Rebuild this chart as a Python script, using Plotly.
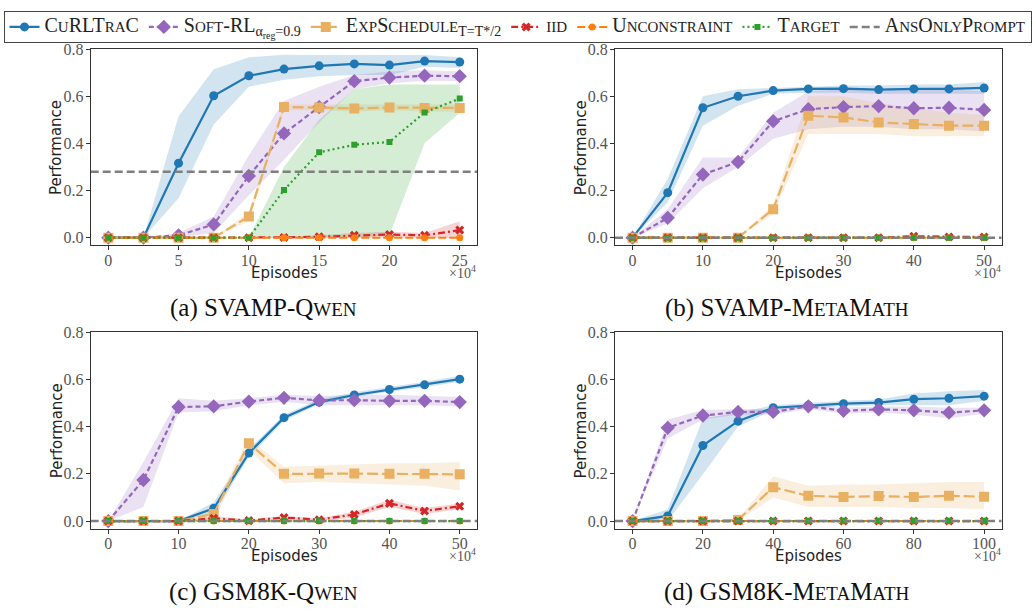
import plotly.graph_objects as go

# ---------------- data ----------------
x_a = [0, 2.5, 5, 7.5, 10, 12.5, 15, 17.5, 20, 22.5, 25]
x_b = [0, 5, 10, 15, 20, 25, 30, 35, 40, 45, 50]
x_c = [0, 5, 10, 15, 20, 25, 30, 35, 40, 45, 50]
x_d = [0, 10, 20, 30, 40, 50, 60, 70, 80, 90, 100]
zeros = [0] * 11

# (a) SVAMP-Qwen
cur_a = [0, 0, 0.316, 0.602, 0.687, 0.715, 0.729, 0.737, 0.732, 0.749, 0.745]
cur_a_lo = [0, 0, 0.167, 0.48, 0.64, 0.67, 0.685, 0.69, 0.69, 0.725, 0.72]
cur_a_hi = [0, 0, 0.515, 0.714, 0.765, 0.776, 0.775, 0.775, 0.775, 0.775, 0.765]
soft_a = [0, 0, 0.01, 0.056, 0.262, 0.442, 0.554, 0.664, 0.679, 0.687, 0.685]
soft_a_lo = [0, 0, 0.0, 0.02, 0.18, 0.33, 0.49, 0.63, 0.655, 0.665, 0.665]
soft_a_hi = [0, 0, 0.02, 0.09, 0.35, 0.58, 0.64, 0.69, 0.705, 0.71, 0.705]
exp_a = [0, 0, 0, 0, 0.09, 0.554, 0.552, 0.548, 0.552, 0.55, 0.55]
exp_a_lo = [0, 0, 0, 0, 0.07, 0.54, 0.54, 0.535, 0.54, 0.535, 0.535]
exp_a_hi = [0, 0, 0, 0, 0.11, 0.565, 0.565, 0.565, 0.565, 0.565, 0.565]
iid_a = [0, 0, 0, 0, 0, 0.001, 0.004, 0.01, 0.013, 0.01, 0.032]
iid_a_lo = [0, 0, 0, 0, 0, 0, 0, 0, 0, 0, 0]
iid_a_hi = [0, 0, 0, 0, 0, 0.004, 0.01, 0.02, 0.025, 0.02, 0.07]
unc_a = zeros
tgt_a = [0, 0, 0, 0, 0, 0.202, 0.362, 0.394, 0.406, 0.531, 0.59]
tgt_a_lo = [0, 0, 0, 0, 0, 0, 0, 0, 0.01, 0.4, 0.53]
tgt_a_hi = [0, 0, 0, 0, 0, 0.3, 0.5, 0.63, 0.65, 0.65, 0.65]
ans_a = 0.28

# (b) SVAMP-MetaMath
cur_b = [0, 0.191, 0.551, 0.6, 0.624, 0.631, 0.632, 0.628, 0.631, 0.631, 0.635]
cur_b_lo = [0, 0.15, 0.475, 0.56, 0.61, 0.615, 0.615, 0.61, 0.61, 0.61, 0.61]
cur_b_hi = [0, 0.25, 0.6, 0.63, 0.635, 0.64, 0.645, 0.645, 0.65, 0.65, 0.66]
soft_b = [0, 0.084, 0.268, 0.321, 0.494, 0.545, 0.554, 0.558, 0.549, 0.551, 0.542]
soft_b_lo = [0, 0.06, 0.21, 0.30, 0.42, 0.46, 0.47, 0.47, 0.46, 0.46, 0.45]
soft_b_hi = [0, 0.12, 0.34, 0.34, 0.53, 0.62, 0.63, 0.63, 0.63, 0.63, 0.62]
exp_b = [0, 0, 0, 0, 0.121, 0.517, 0.51, 0.489, 0.482, 0.475, 0.475]
exp_b_lo = [0, 0, 0, 0, 0.1, 0.44, 0.44, 0.44, 0.43, 0.43, 0.43]
exp_b_hi = [0, 0, 0, 0, 0.14, 0.60, 0.60, 0.57, 0.55, 0.53, 0.52]
iid_b = [0, 0, 0, 0, 0, 0, 0, 0, 0.006, 0.003, 0.003]
unc_b = zeros
tgt_b = zeros
ans_b = 0.0

# (c) GSM8K-Qwen
cur_c = [0, 0, 0, 0.054, 0.288, 0.438, 0.504, 0.534, 0.557, 0.577, 0.601]
cur_c_lo = [0, 0, 0, 0.03, 0.27, 0.425, 0.495, 0.525, 0.548, 0.567, 0.59]
cur_c_hi = [0, 0, 0, 0.08, 0.305, 0.45, 0.515, 0.545, 0.567, 0.59, 0.615]
soft_c = [0, 0.174, 0.483, 0.486, 0.506, 0.522, 0.511, 0.512, 0.509, 0.509, 0.504]
soft_c_lo = [0, 0.06, 0.46, 0.465, 0.49, 0.505, 0.49, 0.49, 0.49, 0.49, 0.485]
soft_c_hi = [0, 0.25, 0.52, 0.51, 0.52, 0.535, 0.53, 0.535, 0.535, 0.53, 0.525]
exp_c = [0, 0, 0, 0.03, 0.33, 0.2, 0.202, 0.201, 0.2, 0.2, 0.198]
exp_c_lo = [0, 0, 0, 0.0, 0.30, 0.16, 0.165, 0.16, 0.155, 0.15, 0.13]
exp_c_hi = [0, 0, 0, 0.06, 0.35, 0.23, 0.235, 0.24, 0.245, 0.245, 0.25]
iid_c = [0, 0, 0, 0.012, 0.002, 0.015, 0.006, 0.028, 0.075, 0.043, 0.063]
iid_c_lo = [0, 0, 0, 0.0, 0.0, 0.005, 0.0, 0.015, 0.06, 0.03, 0.05]
iid_c_hi = [0, 0, 0, 0.02, 0.008, 0.022, 0.012, 0.04, 0.09, 0.055, 0.075]
unc_c = zeros
tgt_c = zeros
ans_c = 0.0

# (d) GSM8K-MetaMath
cur_d = [0, 0.022, 0.32, 0.423, 0.48, 0.49, 0.497, 0.502, 0.516, 0.52, 0.529]
cur_d_lo = [0, 0.0, 0.198, 0.40, 0.47, 0.48, 0.485, 0.49, 0.49, 0.49, 0.51]
cur_d_hi = [0, 0.05, 0.434, 0.46, 0.49, 0.50, 0.51, 0.515, 0.54, 0.55, 0.555]
soft_d = [0, 0.395, 0.447, 0.462, 0.462, 0.486, 0.467, 0.473, 0.469, 0.459, 0.469]
soft_d_lo = [0, 0.35, 0.43, 0.45, 0.45, 0.475, 0.455, 0.46, 0.45, 0.435, 0.455]
soft_d_hi = [0, 0.43, 0.47, 0.475, 0.475, 0.495, 0.48, 0.485, 0.485, 0.48, 0.48]
exp_d = [0, 0, 0, 0.005, 0.143, 0.107, 0.102, 0.106, 0.102, 0.107, 0.103]
exp_d_lo = [0, 0, 0, 0, 0.10, 0.06, 0.06, 0.06, 0.055, 0.055, 0.05]
exp_d_hi = [0, 0, 0, 0.01, 0.19, 0.15, 0.155, 0.155, 0.16, 0.165, 0.165]
iid_d = zeros
unc_d = zeros
tgt_d = zeros
ans_d = 0.0

x_ticks_a = [0, 5, 10, 15, 20, 25]
x_ticks_b = [0, 10, 20, 30, 40, 50]
x_ticks_c = [0, 10, 20, 30, 40, 50]
x_ticks_d = [0, 20, 40, 60, 80, 100]
y_ticks = [0.0, 0.2, 0.4, 0.6, 0.8]

CS = "<span style='font-size:19px'>%s</span>"
captions = [
    "(a) SVAMP-Q" + CS % "WEN",
    "(b) SVAMP-M" + CS % "ETA" + "M" + CS % "ATH",
    "(c) GSM8K-Q" + CS % "WEN",
    "(d) GSM8K-M" + CS % "ETA" + "M" + CS % "ATH",
]

SC = "<span style='font-size:15px'>%s</span>"
BIG = "<span style='font-size:20px'>%s</span>"
names = {
    'cur': BIG % ("C" + SC % "U" + "RLT" + SC % "RA" + "C"),
    'soft': BIG % ("S" + SC % "OFT" + "-RL<sub>α<sub>reg</sub>=0.9</sub>"),
    'exp': BIG % ("E" + SC % "XP" + "S" + SC % "CHEDULE" + "<sub>T=T*/2</sub>"),
    'iid': BIG % (SC % "IID"),
    'unc': BIG % ("U" + SC % "NCONSTRAINT"),
    'tgt': BIG % ("T" + SC % "ARGET"),
    'ans': BIG % ("A" + SC % "NS" + "O" + SC % "NLY" + "P" + SC % "ROMPT"),
}

# ---------------- style ----------------
COL = dict(cur='#1f77b4', soft='#9467bd', exp='#e8b060', iid='#d62728',
           unc='#ff7f0e', tgt='#2ca02c', ans='#7f7f7f')
FILL = dict(cur='rgba(31,119,180,0.2)', soft='rgba(148,103,189,0.2)', exp='rgba(232,176,96,0.2)',
            iid='rgba(214,39,40,0.2)', tgt='rgba(44,160,44,0.2)')
STY = dict(
    cur=dict(dash='solid', symbol='circle', size=9, width=2.2),
    soft=dict(dash='5px,3px', symbol='diamond', size=11, width=2.2),
    exp=dict(dash='11px,4px', symbol='square', size=10, width=2.2),
    iid=dict(dash='7px,3px,2px,3px', symbol='x', size=8, width=2.2),
    unc=dict(dash='8px,3px', symbol='circle', size=7, width=2.0),
    tgt=dict(dash='2px,3px', symbol='square', size=6, width=2.2),
)

W, H = 1035, 609
def px(x): return x / W
def py(y): return 1 - y / H

panels = [
    dict(x=x_a, cur=cur_a, soft=soft_a, exp=exp_a, iid=iid_a, unc=unc_a, tgt=tgt_a, ans=ans_a,
         bands=dict(cur=(cur_a_lo, cur_a_hi), soft=(soft_a_lo, soft_a_hi), exp=(exp_a_lo, exp_a_hi),
                    iid=(iid_a_lo, iid_a_hi), tgt=(tgt_a_lo, tgt_a_hi)),
         ticks=x_ticks_a, xr=[-1.25, 26.25], dom_x=[px(90.7), px(477.3)], dom_y=[py(241), py(41.7)]),
    dict(x=x_b, cur=cur_b, soft=soft_b, exp=exp_b, iid=iid_b, unc=unc_b, tgt=tgt_b, ans=ans_b,
         bands=dict(cur=(cur_b_lo, cur_b_hi), soft=(soft_b_lo, soft_b_hi), exp=(exp_b_lo, exp_b_hi)),
         ticks=x_ticks_b, xr=[-2.5, 52.5], dom_x=[px(615), px(1001.7)], dom_y=[py(241), py(41.7)]),
    dict(x=x_c, cur=cur_c, soft=soft_c, exp=exp_c, iid=iid_c, unc=unc_c, tgt=tgt_c, ans=ans_c,
         bands=dict(cur=(cur_c_lo, cur_c_hi), soft=(soft_c_lo, soft_c_hi), exp=(exp_c_lo, exp_c_hi),
                    iid=(iid_c_lo, iid_c_hi)),
         ticks=x_ticks_c, xr=[-2.5, 52.5], dom_x=[px(90.7), px(477.3)], dom_y=[py(528.7), py(329)]),
    dict(x=x_d, cur=cur_d, soft=soft_d, exp=exp_d, iid=iid_d, unc=unc_d, tgt=tgt_d, ans=ans_d,
         bands=dict(cur=(cur_d_lo, cur_d_hi), soft=(soft_d_lo, soft_d_hi), exp=(exp_d_lo, exp_d_hi)),
         ticks=x_ticks_d, xr=[-5, 105], dom_x=[px(615), px(1001.7)], dom_y=[py(528.7), py(329)]),
]

fig = go.Figure()
layout = dict(width=W, height=H, margin=dict(l=0, r=0, t=0, b=0),
              paper_bgcolor='white', plot_bgcolor='white', showlegend=True)

keys = ['cur', 'soft', 'exp', 'iid', 'unc', 'tgt']
for i, p in enumerate(panels):
    n = '' if i == 0 else str(i + 1)
    xa, ya = 'x' + n, 'y' + n
    for k, (lo, hi) in p['bands'].items():
        fig.add_trace(go.Scatter(x=p['x'], y=lo, xaxis=xa, yaxis=ya, mode='lines',
                                 line=dict(width=0), showlegend=False, hoverinfo='skip'))
        fig.add_trace(go.Scatter(x=p['x'], y=hi, xaxis=xa, yaxis=ya, mode='lines',
                                 line=dict(width=0), fill='tonexty', fillcolor=FILL[k],
                                 showlegend=False, hoverinfo='skip'))
    for k in keys:
        s = STY[k]
        fig.add_trace(go.Scatter(
            x=p['x'], y=p[k], xaxis=xa, yaxis=ya, mode='lines+markers', name=names[k],
            legendgroup=k, showlegend=(i == 0),
            line=dict(color=COL[k], width=s['width'], dash=s['dash']),
            marker=dict(symbol=s['symbol'], size=s['size'], color=COL[k], line=dict(width=0))))
    fig.add_trace(go.Scatter(
        x=[p['xr'][0], p['xr'][1]], y=[p['ans'], p['ans']], xaxis=xa, yaxis=ya, mode='lines',
        name=names['ans'], legendgroup='ans', showlegend=(i == 0),
        line=dict(color=COL['ans'], width=2.5, dash='8px,4px')))

    axcommon = dict(showline=True, mirror=True, linecolor='#333', linewidth=1,
                    ticks='outside', ticklen=4, tickcolor='#333', showgrid=False, zeroline=False,
                    tickfont=dict(family='Liberation Serif', size=16, color='#555'))
    layout['xaxis' + n] = dict(axcommon, domain=p['dom_x'], range=p['xr'], tickvals=p['ticks'],
                               anchor=ya, ticklabelstandoff=-4)
    layout['yaxis' + n] = dict(axcommon, domain=p['dom_y'], range=[-0.033, 0.8], tickvals=y_ticks,
                               ticktext=['%.1f' % v for v in y_ticks], anchor=xa,
                               ticklabelstandoff=-1)

fig.update_layout(**layout)

ann = []
lab_font = dict(family='DejaVu Sans', size=15, color='#222')
for i, p in enumerate(panels):
    x0, x1 = p['dom_x']
    y0, y1 = p['dom_y']
    cx = (x0 + x1) / 2
    ann.append(dict(x=x0 - px(34), y=(y0 + y1) / 2, xref='paper', yref='paper', text='Performance',
                    textangle=-90, showarrow=False, font=lab_font, xanchor='center', yanchor='middle'))
    ann.append(dict(x=cx, y=y0 - 28 / H, xref='paper', yref='paper', text='Episodes',
                    showarrow=False, font=lab_font, xanchor='center', yanchor='middle'))
    ann.append(dict(x=x1 + px(1), y=y0 - 27 / H, xref='paper', yref='paper', text='×10<sup>4</sup>',
                    showarrow=False, font=dict(family='Liberation Serif', size=14, color='#555'),
                    xanchor='right', yanchor='middle'))
    ann.append(dict(x=cx - px(21), y=y0 - 64 / H, xref='paper', yref='paper', text=captions[i],
                    showarrow=False, font=dict(family='Liberation Serif', size=25, color='#111'),
                    xanchor='center', yanchor='middle'))

fig.update_layout(
    annotations=ann,
    legend=dict(orientation='h', x=0.5, xanchor='center', y=1 - 3 / H, yanchor='top',
                bordercolor='#444', borderwidth=1, bgcolor='white',
                font=dict(family='Liberation Serif', size=13, color='#222'),
                itemwidth=30, tracegroupgap=0, traceorder='normal'),
)

fig.write_html('out.html', config={'displayModeBar': False},
               post_script="document.body.style.margin='0px';")
